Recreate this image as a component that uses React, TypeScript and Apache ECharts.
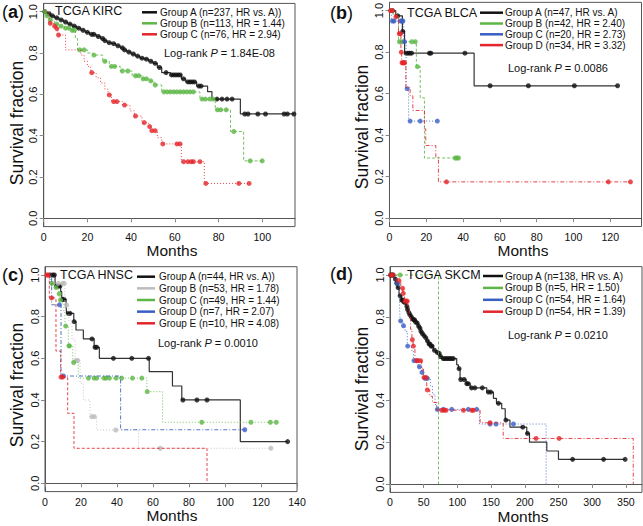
import React, { useEffect, useRef } from "react";
import * as echarts from "echarts";

type Step = [number, number];

// ---------- tick labels ----------
const yTicks = [0, 0.2, 0.4, 0.6, 0.8, 1.0];
const kircXTicks = [0, 20, 40, 60, 80, 100];
const blcaXTicks = [0, 20, 40, 60, 80, 100, 120];
const hnscXTicks = [0, 20, 40, 60, 80, 100, 120, 140];
const skcmXTicks = [0, 50, 100, 150, 200, 250, 300, 350];

// ---------- (a) TCGA KIRC ----------
const kircA: Step[] = [[0, 1], [1.5, 0.99], [3, 0.98], [5, 0.97], [7, 0.96], [9, 0.95], [11, 0.94], [13, 0.93], [15, 0.92], [17, 0.91], [19, 0.9], [21, 0.89], [24, 0.88], [26, 0.87], [27.5, 0.86], [29, 0.85], [31, 0.845], [33, 0.835], [35, 0.825], [36.5, 0.815], [38, 0.805], [40, 0.795], [42, 0.785], [44, 0.775], [46, 0.77], [48, 0.76], [50, 0.75], [52, 0.73], [54, 0.705], [58, 0.694], [63, 0.675], [65, 0.66], [70, 0.64], [75, 0.613], [77, 0.577], [90, 0.505], [114.5, 0.505]];
const kircACensor = [0.5, 2.5, 4, 6, 8, 10, 12, 14, 16, 18, 20, 22, 23, 25, 27, 28, 30, 32, 34, 36, 37, 39, 41, 43, 45, 47, 49, 51, 53, 56, 58.5, 59.5, 60.5, 61.5, 62.5, 64, 66, 67, 68, 69, 71, 72, 79.3, 81.6, 83.9, 86.2, 92, 93.5, 98, 101.5, 110, 111.5, 114.5];
const kircB: Step[] = [[0, 1], [1, 0.98], [2.6, 0.96], [5, 0.94], [7, 0.93], [9.5, 0.92], [12.6, 0.91], [14.5, 0.87], [15.5, 0.815], [20, 0.8], [22.5, 0.79], [27, 0.76], [30, 0.735], [35, 0.713], [40.5, 0.69], [45, 0.675], [48, 0.665], [50.5, 0.645], [54, 0.612], [71.5, 0.577], [78.5, 0.525], [85.5, 0.42], [91.5, 0.278], [100, 0.278]];
const kircBCensor = [0.5, 1.5, 3, 6, 8, 10, 11.5, 13, 14, 16.5, 18.5, 23, 28, 31, 32.5, 36, 38.5, 42, 43.5, 45.5, 47, 49, 51, 55, 56.5, 58, 59.5, 61, 62.5, 64, 65.5, 67, 68.5, 72.5, 74, 76, 77.5, 79.5, 81, 83.5, 87, 94.5, 100];
const kircC: Step[] = [[0, 1], [2.5, 0.944], [4.5, 0.93], [5.5, 0.918], [6.5, 0.887], [10, 0.815], [17, 0.79], [18.5, 0.76], [20, 0.735], [21.5, 0.705], [24, 0.68], [26, 0.655], [28, 0.625], [29.5, 0.597], [31, 0.565], [36, 0.548], [39.5, 0.52], [41.5, 0.495], [45, 0.463], [48, 0.444], [49, 0.424], [52, 0.39], [54, 0.36], [63, 0.274], [73.5, 0.169], [94, 0.169]];
const kircCCensor = [3, 5, 6, 6.8, 22, 30, 32, 33.5, 37, 42, 46, 48.5, 49.5, 51, 54.5, 61, 62.4, 64, 66, 67.5, 68.5, 71.5, 74.2, 89.3, 94];
const kircLegend = ["Group A (n=237, HR vs. A))", "Group B (n=113, HR = 1.44)", "Group C (n=76, HR = 2.94)"];

// ---------- (b) TCGA BLCA ----------
const blcaA: Step[] = [[0, 1], [3.4, 0.975], [7, 0.9], [8.2, 0.795], [46, 0.638], [124, 0.638]];
const blcaACensor = [1.6, 4.5, 7.2, 9, 10, 11, 12, 21.7, 22.5, 41, 54.7, 75.5, 100.5, 124];
const blcaB: Step[] = [[0, 1], [2, 0.975], [4.9, 0.85], [14.6, 0.73], [16.7, 0.58], [19, 0.29], [37.5, 0.29]];
const blcaBCensor = [1.2, 5.4, 6.7, 12.1, 14, 15.2, 35.7, 36.6, 37.5];
const blcaC: Step[] = [[0, 1], [1, 0.95], [7.7, 0.85], [9, 0.624], [10.4, 0.468], [26, 0.468]];
const blcaCCensor = [1.6, 2.5, 6, 6.7, 7.3, 8.2, 9.6, 11.2, 16.7, 26];
const blcaD: Step[] = [[0, 1], [3, 0.97], [4.9, 0.889], [6.2, 0.8], [6.6, 0.749], [8.9, 0.63], [11.2, 0.59], [12.7, 0.519], [19, 0.43], [19.7, 0.35], [25.2, 0.294], [26.6, 0.175], [131, 0.175]];
const blcaDCensor = [0.5, 1.6, 3.5, 5.3, 6.0, 6.4, 6.8, 7.3, 7.8, 8.2, 31, 119, 131];
const blcaLegend = ["Group A (n=47, HR vs. A)", "Group B (n=42, HR = 2.40)", "Group C (n=20, HR = 2.73)", "Group D (n=34, HR = 3.32)"];

// ---------- (c) TCGA HNSC ----------
const hnscA: Step[] = [[0, 1], [5.6, 0.947], [8.7, 0.92], [9.3, 0.883], [11.7, 0.85], [12, 0.816], [16, 0.776], [17.2, 0.736], [21.3, 0.693], [27.3, 0.653], [30.2, 0.6], [57.9, 0.536], [70.8, 0.467], [76, 0.4], [108.5, 0.2], [134.8, 0.2]];
const hnscACensor = [2.8, 4.3, 5.2, 6.5, 7.4, 8.3, 9.8, 10.6, 13, 13.9, 16.2, 26.1, 27.8, 28.7, 38, 48.2, 57.5, 76.6, 84.4, 90, 134.8];
const hnscB: Step[] = [[0, 1], [2.8, 0.96], [11, 0.856], [13.3, 0.78], [15, 0.69], [16.8, 0.59], [19.5, 0.48], [21.3, 0.4], [25, 0.32], [28.7, 0.256], [52, 0.168], [125.5, 0.168]];
const hnscBCensor = [4, 7.4, 9.8, 10.7, 12, 17.2, 18.2, 26, 27.4, 39.3, 64, 125.5];
const hnscC: Step[] = [[0, 1], [2.8, 0.96], [5.6, 0.94], [7.5, 0.91], [8.3, 0.88], [9.8, 0.86], [10.5, 0.82], [11.1, 0.755], [13, 0.66], [15.4, 0.58], [18.5, 0.505], [56.6, 0.44], [65.3, 0.293], [128.5, 0.293]];
const hnscCCensor = [3.7, 6.1, 7.9, 8.6, 11.5, 13.3, 13.6, 15.9, 24.1, 27.3, 28.7, 32.8, 33.9, 35.8, 39.5, 42.6, 48.6, 53.8, 56.8, 87.1, 114.4, 125.2, 128.5];
const hnscD: Step[] = [[0, 1], [3.7, 0.857], [8.9, 0.515], [42, 0.257], [111, 0.257]];
const hnscDCensor = [8, 10.2, 111];
const hnscE: Step[] = [[0, 1], [2.4, 0.89], [6.1, 0.635], [8.7, 0.51], [12.6, 0.336], [16.1, 0.168], [90, 0]];
const hnscECensor = [1, 1.8, 3.7, 8.9, 9.8];
const hnscLegend = ["Group A (n=44, HR vs. A))", "Group B (n=53, HR = 1.78)", "Group C (n=49, HR = 1.44)", "Group D (n=7, HR = 2.07)", "Group E (n=10, HR = 4.08)"];

// ---------- (d) TCGA SKCM ----------
const skcmA: Step[] = [[0, 1], [5, 0.99], [7.4, 0.98], [9, 0.96], [10.9, 0.94], [13.4, 0.9], [17, 0.88], [20, 0.87], [23.8, 0.85], [25.5, 0.835], [27, 0.82], [29, 0.81], [30.7, 0.8], [32.5, 0.79], [35, 0.785], [37, 0.775], [39.6, 0.77], [41.5, 0.755], [43.6, 0.745], [45.5, 0.73], [47, 0.72], [49.5, 0.71], [52, 0.7], [54.5, 0.685], [57, 0.67], [60, 0.66], [64.4, 0.64], [68, 0.63], [71.8, 0.625], [74, 0.61], [76.7, 0.6], [99, 0.57], [101.5, 0.552], [104, 0.5], [113, 0.48], [119, 0.46], [143.6, 0.44], [153.5, 0.41], [158, 0.386], [165.8, 0.36], [171, 0.306], [178, 0.272], [203, 0.242], [207, 0.2], [232.7, 0.158], [250, 0.118], [349, 0.118]];
const skcmACensor = [1, 3, 4.5, 8, 10, 12, 15, 17.5, 19, 21, 22.5, 25, 26, 28, 29.5, 31.5, 33.5, 35.5, 36.5, 38, 40.5, 42.5, 44.5, 46, 48, 50.5, 53, 55.5, 58, 59, 61, 62.5, 66, 70, 73, 75, 79, 81.5, 84, 86.5, 89, 91.5, 94, 102.5, 105, 110, 114, 116, 121, 126, 137, 146, 149.5, 161, 172, 197, 204, 271, 317, 349];
const skcmB: Step[] = [[0, 1], [72, 0]];
const skcmBCensor = [15];
const skcmC: Step[] = [[0, 1], [2.5, 0.99], [7.4, 0.96], [13.9, 0.9], [14.9, 0.78], [19.5, 0.757], [22.3, 0.73], [25.7, 0.66], [32, 0.64], [34.7, 0.59], [42, 0.561], [47, 0.534], [49.5, 0.505], [60, 0.47], [63, 0.43], [66.8, 0.38], [69.3, 0.357], [132.7, 0.287], [231.7, 0]];
const skcmCCensor = [10.9, 15.8, 20, 26.2, 35.6, 39.6, 43.6, 47.5, 52, 55.4, 70.3, 79.2, 91.6, 116.3, 128.7, 148.5, 157.4, 183.2];
const skcmD: Step[] = [[0, 1], [9, 0.973], [16, 0.936], [19.3, 0.912], [21.5, 0.875], [26.5, 0.85], [28.5, 0.8], [30.5, 0.74], [32.5, 0.69], [34.2, 0.66], [37, 0.59], [47, 0.55], [49.5, 0.51], [54.5, 0.45], [59, 0.42], [63, 0.39], [69.3, 0.353], [133.7, 0.293], [168, 0.218], [361, 0]];
const skcmDCensor = [1, 4.5, 13.4, 18.8, 19.8, 22.3, 24, 25.7, 33.2, 34.7, 39.6, 42, 45.5, 50.5, 53.5, 55.4, 76.7, 80.2, 83.2, 109, 121.3, 123.8, 148.5, 216.8, 251];
const skcmLegend = ["Group A (n=138, HR vs. A)", "Group B (n=5, HR = 1.50)", "Group C (n=54, HR = 1.64)", "Group D (n=54, HR = 1.39)"];

const titles = ["TCGA KIRC", "TCGA BLCA", "TCGA HNSC", "TCGA SKCM"];
const pValues = ["1.84E-08", "0.0086", "0.0010", "0.0210"];
const tags = ["a", "b", "c", "d"];

// ---------- styles ----------
const FONT = "Liberation Sans, Arial, Helvetica, sans-serif";
const BLACK = "#2a2a2a";
const GREEN = "#5db645";
const RED = "#e3262b";
const BLUE = "#3a5ec4";
const GRAY = "#bcbcbc";
const DASH = [3, 2];
const DOT = [1, 2];
const DASHDOT = [4, 2, 1, 2];

type Group = { steps: Step[]; censor: number[]; color: string; dash: any };

const g = (steps: Step[], censor: number[], color: string, dash: any): Group => ({ steps, censor, color, dash });

const panels = [
  {
    grid: { left: 43.7, top: 3.4, width: 251.3, height: 223.2 }, xMax: 115, xTicks: kircXTicks,
    groups: [g(kircA, kircACensor, BLACK, "solid"), g(kircB, kircBCensor, GREEN, DASH), g(kircC, kircCCensor, RED, DOT)],
    legend: kircLegend, tag: [2, 12], title: [55, 10.5], leg: { x1: 142, x2: 157, tx: 160, y0: 12.3, dy: 11 },
    logrank: [164, 53.3], ylab: [17, 123], xlab: [172, 250.5],
  },
  {
    grid: { left: 389.5, top: 0, width: 252, height: 226.5 }, xMax: 137, xTicks: blcaXTicks,
    groups: [g(blcaA, blcaACensor, BLACK, "solid"), g(blcaB, blcaBCensor, GREEN, DASH), g(blcaC, blcaCCensor, BLUE, DOT), g(blcaD, blcaDCensor, RED, DASHDOT)],
    legend: blcaLegend, tag: [330, 13], title: [407, 12.7], leg: { x1: 480, x2: 503, tx: 505, y0: 12.7, dy: 10.8 },
    logrank: [508, 68.3], ylab: [362, 127], xlab: [523, 250.5],
  },
  {
    grid: { left: 45, top: 266.7, width: 252, height: 224.9 }, xMax: 140, xTicks: hnscXTicks,
    groups: [g(hnscA, hnscACensor, BLACK, "solid"), g(hnscB, hnscBCensor, GRAY, DOT), g(hnscC, hnscCCensor, GREEN, DOT), g(hnscD, hnscDCensor, BLUE, DASHDOT), g(hnscE, hnscECensor, RED, DASH)],
    legend: hnscLegend, tag: [2, 275], title: [60, 275], leg: { x1: 137, x2: 155, tx: 159, y0: 276.7, dy: 11.65 },
    logrank: [158, 343.3], ylab: [17, 385], xlab: [172, 515.5],
  },
  {
    grid: { left: 390, top: 266.6, width: 252, height: 225.8 }, xMax: 374, xTicks: skcmXTicks,
    groups: [g(skcmA, skcmACensor, BLACK, "solid"), g(skcmB, skcmBCensor, GREEN, DASH), g(skcmC, skcmCCensor, BLUE, DOT), g(skcmD, skcmDCensor, RED, DASHDOT)],
    legend: skcmLegend, tag: [330, 274], title: [407, 275], leg: { x1: 483, x2: 503, tx: 505, y0: 276, dy: 11.9 },
    logrank: [508, 335], ylab: [362, 389], xlab: [523, 516],
  },
];

function survAt(steps: Step[], t: number): number {
  let s = steps[0][1];
  for (const [ti, si] of steps) {
    if (ti <= t) s = si;
    else break;
  }
  return s;
}

function buildOption() {
  const grid: any[] = [];
  const xAxis: any[] = [];
  const yAxis: any[] = [];
  const series: any[] = [];
  const graphic: any[] = [];

  panels.forEach((p, i) => {
    grid.push({ ...p.grid, show: true, borderColor: "#555", borderWidth: 1, backgroundColor: "transparent", containLabel: false });
    xAxis.push({
      type: "value", gridIndex: i, min: 0, max: p.xMax,
      axisLine: { show: true, lineStyle: { color: "#555", width: 1 } },
      axisTick: { show: true, length: 4, lineStyle: { color: "#888" }, customValues: p.xTicks },
      axisLabel: { customValues: p.xTicks, fontSize: 10.6, lineHeight: 11, color: "#111", margin: 4.5, fontFamily: FONT },
      splitLine: { show: false },
    });
    yAxis.push({
      type: "value", gridIndex: i, min: -0.04, max: 1.04,
      axisLine: { show: true, lineStyle: { color: "#555", width: 1 } },
      axisTick: { show: true, length: 4, lineStyle: { color: "#888" }, customValues: yTicks },
      axisLabel: { customValues: yTicks, rotate: 90, fontSize: 11, lineHeight: 12, color: "#111", margin: 4.5, fontFamily: FONT, formatter: (v: number) => v.toFixed(1) },
      splitLine: { show: false },
    });
    p.groups.forEach((gr, k) => {
      const isBlack = gr.color === BLACK;
      series.push({
        type: "line", xAxisIndex: i, yAxisIndex: i, data: gr.steps, step: "end", symbol: "none", showSymbol: false,
        lineStyle: { color: isBlack ? "#333" : gr.color, width: isBlack ? 1.2 : 1, type: gr.dash, opacity: isBlack ? 1 : 0.85 },
        silent: true, z: 2 + k * 2,
      });
      series.push({
        type: "scatter", xAxisIndex: i, yAxisIndex: i,
        data: gr.censor.map((t) => [t, survAt(gr.steps, t)]),
        symbol: "circle", symbolSize: 5, itemStyle: { color: isBlack ? "#111" : gr.color },
        silent: true, z: 3 + k * 2,
      });
    });

    // panel tag
    graphic.push({
      type: "text", x: p.tag[0], y: p.tag[1], z: 100,
      style: {
        text: `{n|(}{b|${tags[i]}}{n|)}`, verticalAlign: "middle", align: "left",
        rich: { n: { fontSize: 18, fontFamily: FONT, fill: "#111" }, b: { fontSize: 18, fontFamily: FONT, fontWeight: "bold", fill: "#111" } },
      },
    });
    // title
    graphic.push({
      type: "text", x: p.title[0], y: p.title[1], z: 100,
      style: { text: titles[i], fontSize: 12.5, fontFamily: FONT, fill: "#111", align: "left", verticalAlign: "middle" },
    });
    // legend
    p.legend.forEach((lab, k) => {
      const y = p.leg.y0 + k * p.leg.dy;
      graphic.push({ type: "line", z: 100, shape: { x1: p.leg.x1, y1: y, x2: p.leg.x2, y2: y }, style: { stroke: p.groups[k].color === BLACK ? "#111" : p.groups[k].color, lineWidth: 2.5 } });
      graphic.push({ type: "text", x: p.leg.tx, y, z: 100, style: { text: lab, fontSize: 10, fontFamily: FONT, fill: "#111", align: "left", verticalAlign: "middle" } });
    });
    // log-rank
    graphic.push({
      type: "text", x: p.logrank[0], y: p.logrank[1], z: 100,
      style: {
        text: `{n|Log-rank }{i|P}{n| = ${pValues[i]}}`, align: "left", verticalAlign: "middle",
        rich: { n: { fontSize: 11, fontFamily: FONT, fill: "#111" }, i: { fontSize: 11, fontFamily: FONT, fontStyle: "italic", fill: "#111" } },
      },
    });
    // axis names
    graphic.push({
      type: "text", x: p.ylab[0], y: p.ylab[1], rotation: Math.PI / 2, z: 100,
      style: { text: "Survival fraction", fontSize: 17.5, fontFamily: FONT, fill: "#111", align: "center", verticalAlign: "middle" },
    });
    graphic.push({
      type: "text", x: p.xlab[0], y: p.xlab[1], z: 100,
      style: { text: "Months", fontSize: 15.5, lineHeight: 15, fontFamily: FONT, fill: "#111", align: "center", verticalAlign: "middle" },
    });
  });

  return {
    animation: false,
    backgroundColor: "#ffffff",
    textStyle: { fontFamily: FONT },
    grid, xAxis, yAxis, series, graphic,
  };
}

export default function App() {
  const ref = useRef<HTMLDivElement>(null);
  useEffect(() => {
    if (!ref.current) return;
    const chart = echarts.init(ref.current, undefined, { renderer: "svg" });
    chart.setOption(buildOption() as any);
    return () => chart.dispose();
  }, []);
  return <div ref={ref} style={{ position: "absolute", left: 0, top: 0, width: 643, height: 526 }} />;
}
